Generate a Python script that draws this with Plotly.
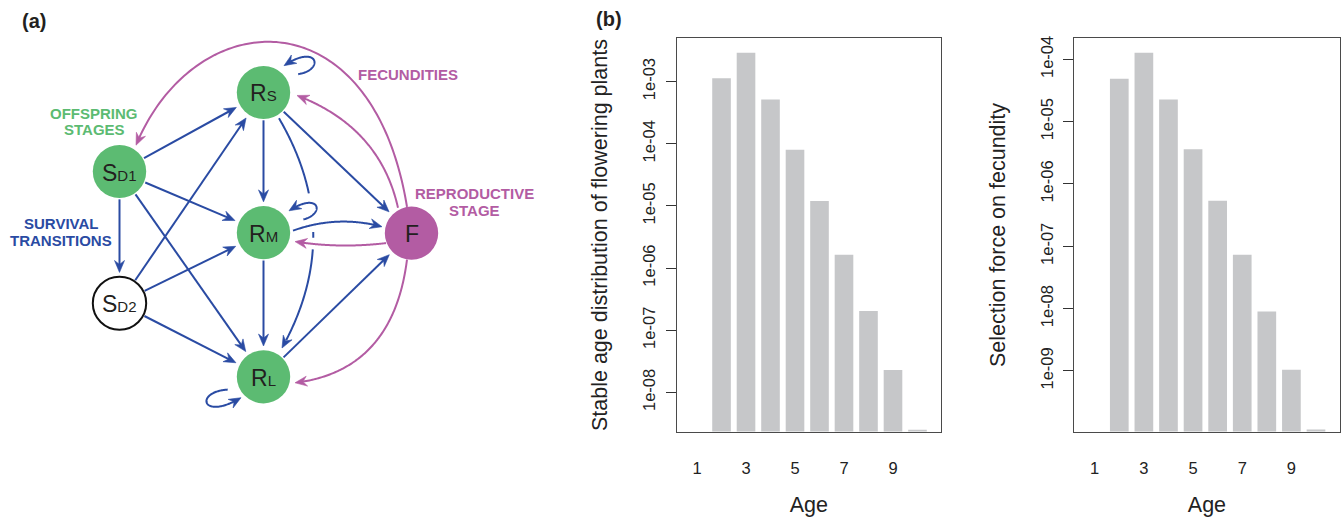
import numpy as np
import plotly.graph_objects as go

# ---------------- data: panel (b) ----------------
ages = list(range(1, 11))
stable_age = [None, 1.13e-3, 2.9e-3, 5.15e-4, 8.0e-5, 1.2e-5, 1.64e-6, 2.04e-7, 2.3e-8, 2.5e-9]
selection_force = [None, 4.9e-5, 1.28e-4, 2.27e-5, 3.6e-6, 5.4e-7, 7.3e-8, 8.95e-9, 1.04e-9, 1.15e-10]
age_ticks = [1, 3, 5, 7, 9]
stable_tickvals = [1e-3, 1e-4, 1e-5, 1e-6, 1e-7, 1e-8]
stable_ticktext = ["1e-03", "1e-04", "1e-05", "1e-06", "1e-07", "1e-08"]
sel_tickvals = [1e-4, 1e-5, 1e-6, 1e-7, 1e-8, 1e-9]
sel_ticktext = ["1e-04", "1e-05", "1e-06", "1e-07", "1e-08", "1e-09"]

# ---------------- data: panel (a) life-cycle graph ----------------
node_names = ["RS", "SD1", "RM", "F", "SD2", "RL"]
node_main = ["R", "S", "R", "F", "S", "R"]
node_sub = ["S", "D1", "M", "", "D2", "L"]
node_kind = ["green", "green", "green", "magenta", "white", "green"]
node_x = [263.5, 119.5, 263.5, 411.5, 119.5, 263.5]
node_y = [90.0, 169.5, 231.0, 231.5, 302.0, 376.0]

survival_from = ["SD1", "SD1", "SD1", "SD1", "SD2", "SD2", "SD2", "RS", "RM", "RS", "RL"]
survival_to = ["RS", "RM", "RL", "SD2", "RS", "RM", "RL", "RM", "RL", "F", "F"]

# ---------------- styling ----------------
GREEN = "#5CBB72"
MAGENTA = "#B35CA3"
BLUE = "#2A4BA3"
DARK = "#231F20"
BAR = "#C6C7C9"
FONT = "Liberation Sans, Arial, Helvetica, sans-serif"
W, H = 1341, 521
DW = 570  # width (px) of the diagram panel
R = 26.7
HEAD_L, HEAD_HW, HEAD_NOTCH = 12.0, 5.0, 4.0

fill = {"green": GREEN, "magenta": MAGENTA, "white": "white"}
edge = {"green": GREEN, "magenta": MAGENTA, "white": "#111111"}
pos = {n: (x, y) for n, x, y in zip(node_names, node_x, node_y)}

shapes = []
annotations = []


def pts_path(P):
    return "M " + " L ".join(f"{p[0]:.2f},{p[1]:.2f}" for p in P)


def head(tip, u, color):
    tip = np.asarray(tip, float)
    u = np.asarray(u, float)
    u = u / np.hypot(*u)
    n = np.array([-u[1], u[0]])
    back = tip - HEAD_L * u
    P = [tip, back + HEAD_HW * n, tip - (HEAD_L - HEAD_NOTCH) * u, back - HEAD_HW * n]
    shapes.append(dict(type="path", path=pts_path(P) + " Z", xref="x3", yref="y3",
                       fillcolor=color, line=dict(color=color, width=0.6), layer="above"))


def line_path(P, color, width=2.0):
    shapes.append(dict(type="path", path=pts_path(P), xref="x3", yref="y3",
                       line=dict(color=color, width=width), layer="above"))


def bez(pts, t):
    pts = np.array(pts, dtype=float)
    if len(pts) == 3:
        return (1 - t) ** 2 * pts[0] + 2 * (1 - t) * t * pts[1] + t ** 2 * pts[2]
    return ((1 - t) ** 3 * pts[0] + 3 * (1 - t) ** 2 * t * pts[1]
            + 3 * (1 - t) * t ** 2 * pts[2] + t ** 3 * pts[3])


def curve(pts, color, width=2.0, gaps=()):
    tip = bez(pts, 1.0)
    u = tip - bez(pts, 0.97)
    u = u / np.hypot(*u)
    stop = tip - (HEAD_L - HEAD_NOTCH - 1) * u
    ts = np.linspace(0, 1, 120)
    P = [bez(pts, t) for t in ts]
    P = [p for p in P if np.dot(p - stop, u) < 0]
    segs, cur = [], []
    for p in P:
        if any(g0 < p[1] < g1 for g0, g1 in gaps):
            if cur:
                segs.append(cur)
            cur = []
        else:
            cur.append(p)
    if cur:
        segs.append(cur)
    for s in segs:
        if len(s) >= 2:
            line_path(s, color, width)
    head(tip, u, color)


# straight survival transitions
for f, t in zip(survival_from, survival_to):
    p0, p1 = np.array(pos[f]), np.array(pos[t])
    u = (p1 - p0) / np.hypot(*(p1 - p0))
    a = p0 + u * 28
    tip = p1 - u * 31
    line_path([a, tip - (HEAD_L - HEAD_NOTCH - 1) * u], BLUE)
    head(tip, u, BLUE)

# curved survival transitions and self loops
curve([(279, 116), (346, 231), (282, 347)], BLUE, gaps=[(192, 229), (238, 247)])   # RS -> RL
curve([(293, 229), (337, 213), (382, 225)], BLUE)                                  # RM -> F
curve([(290, 72), (326, 73), (321, 38), (284, 63)], BLUE)                          # RS loop
curve([(291, 219), (327, 220), (324, 186), (289, 209)], BLUE)                      # RM loop
curve([(238, 389), (193, 385), (198, 423), (241, 397)], BLUE)                      # RL loop

# fecundities
curve([(407, 205), (372, -10), (195, 0), (136, 143)], MAGENTA)                     # F -> SD1
curve([(398, 206), (380, 125), (297, 93)], MAGENTA)                                # F -> RS
curve([(386, 241.5), (340, 247), (295, 240)], MAGENTA)                             # F -> RM
curve([(407, 258), (393, 370), (295, 382)], MAGENTA)                               # F -> RL

# nodes
for n, k, x, y, m, s in zip(node_names, node_kind, node_x, node_y, node_main, node_sub):
    shapes.append(dict(type="circle", xref="x3", yref="y3", x0=x - R, x1=x + R,
                       y0=y - R, y1=y + R, fillcolor=fill[k],
                       line=dict(color=edge[k], width=2 if k == "white" else 0),
                       layer="above"))
    txt = m + (f"<span style='font-size:15px'>{s}</span>" if s else "")
    annotations.append(dict(x=x, y=y + 1, xref="x3", yref="y3", text=txt,
                            showarrow=False, xanchor="center", yanchor="middle",
                            font=dict(family=FONT, size=23, color=DARK)))

# group labels
labels = [("OFFSPRING", 94.3, 110.7, GREEN), ("STAGES", 94.3, 127.7, GREEN),
          ("SURVIVAL", 60.5, 221.7, BLUE), ("TRANSITIONS", 60.5, 239.0, BLUE),
          ("FECUNDITIES", 408.3, 71.7, MAGENTA),
          ("REPRODUCTIVE", 474.0, 191.7, MAGENTA), ("STAGE", 474.5, 208.3, MAGENTA)]
for t, x, y, c in labels:
    annotations.append(dict(x=x, y=y, xref="x3", yref="y3", text=f"<b>{t}</b>",
                            showarrow=False, xanchor="center", yanchor="middle",
                            font=dict(family=FONT, size=15, color=c)))

# panel letters
for t, x, y in [("(a)", 33.5, 18), ("(b)", 608.5, 16.5)]:
    annotations.append(dict(x=x / W, y=1 - y / H, xref="paper", yref="paper",
                            text=f"<b>{t}</b>",
                            showarrow=False, xanchor="center", yanchor="middle",
                            font=dict(family=FONT, size=20, color=DARK)))

# ---------------- figure ----------------
fig = go.Figure()
fig.add_trace(go.Bar(x=ages, y=stable_age, marker=dict(color=BAR, line=dict(width=0)),
                     width=0.76, xaxis="x", yaxis="y", showlegend=False))
fig.add_trace(go.Bar(x=ages, y=selection_force, marker=dict(color=BAR, line=dict(width=0)),
                     width=0.76, xaxis="x2", yaxis="y2", showlegend=False))
fig.add_trace(go.Scatter(x=node_x, y=node_y, mode="markers", marker=dict(size=1, opacity=0),
                         xaxis="x3", yaxis="y3", hoverinfo="skip", showlegend=False))

tickfont = dict(family=FONT, size=16.5, color="#222222")
titlefont = dict(family=FONT, size=21.5, color="#222222")
frame = dict(showline=True, mirror=True, linecolor="#4a4a4a", linewidth=1.2,
             showgrid=False, zeroline=False)


def xax(domain, anchor):
    return dict(domain=domain, anchor=anchor, range=[0.17, 10.96], tickmode="array",
                tickvals=age_ticks, ticks="", tickfont=tickfont, ticklabelstandoff=22,
                title=dict(text="Age", font=titlefont, standoff=20), **frame)


def yax(domain, anchor, rng, tv, tt, title):
    return dict(domain=domain, anchor=anchor, type="log", range=rng, tickmode="array",
                tickvals=tv, ticktext=tt, ticks="outside", ticklen=10, tickwidth=1.2,
                tickcolor="#333333", tickangle=-90, tickfont=tickfont,
                ticklabelstandoff=4,
                title=dict(text=title, font=titlefont, standoff=26), **frame)


ydom = [1 - 431 / H, 1 - 35.7 / H]
fig.update_layout(
    width=W, height=H, margin=dict(l=0, r=0, t=0, b=0),
    paper_bgcolor="white", plot_bgcolor="rgba(0,0,0,0)", showlegend=False,
    font=dict(family=FONT),
    xaxis=xax([676.7 / W, 941 / W], "y"),
    yaxis=yax(ydom, "x", [-8.629, -2.307], stable_tickvals, stable_ticktext,
              "Stable age distribution of flowering plants"),
    xaxis2=xax([1074.3 / W, 1339.6 / W], "y2"),
    yaxis2=yax(ydom, "x2", [-9.973, -3.665], sel_tickvals, sel_ticktext,
               "Selection force on fecundity"),
    xaxis3=dict(domain=[0, DW / W], anchor="y3", range=[0, DW], visible=False),
    yaxis3=dict(domain=[0, 1], anchor="x3", range=[H, 0], visible=False),
    shapes=shapes, annotations=annotations,
)

fig.write_html("out.html")
